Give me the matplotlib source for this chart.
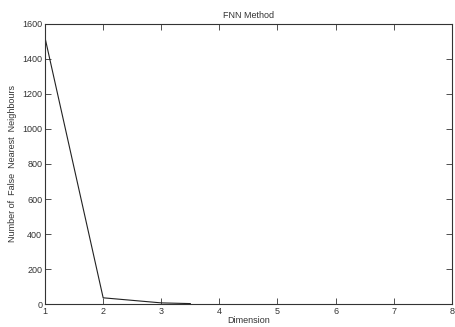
import matplotlib
matplotlib.use('Agg')
import matplotlib.pyplot as plt

plt.rcParams['font.family'] = ['Liberation Sans', 'DejaVu Sans']

dimension = [1, 2, 3, 3.5]
fnn_count = [1520, 36, 7, 3]

fig = plt.figure(figsize=(4.55, 3.27), dpi=100)
ax = fig.add_axes([0.099, 0.070, 0.894, 0.857])

ax.plot(dimension, fnn_count, color='#222222', linewidth=0.8)

ax.set_xlim(1, 8)
ax.set_ylim(0, 1600)
ax.set_xticks(range(1, 9))
ax.set_yticks(range(0, 1601, 200))
ax.tick_params(direction='in', length=4, width=0.6, labelsize=6.5, pad=2,
               top=True, right=True, colors='#333333')
for s in ax.spines.values():
    s.set_linewidth(0.8)
    s.set_color('#333333')

ax.set_title('FNN Method', fontsize=6.5, pad=4, color='#333333')
ax.set_xlabel('Dimension', fontsize=6.5, labelpad=0, color='#333333')
ax.set_ylabel('Number of  False  Nearest  Neighbours', fontsize=6.5, labelpad=4, color='#333333')

fig.savefig('out.png', dpi=100)
